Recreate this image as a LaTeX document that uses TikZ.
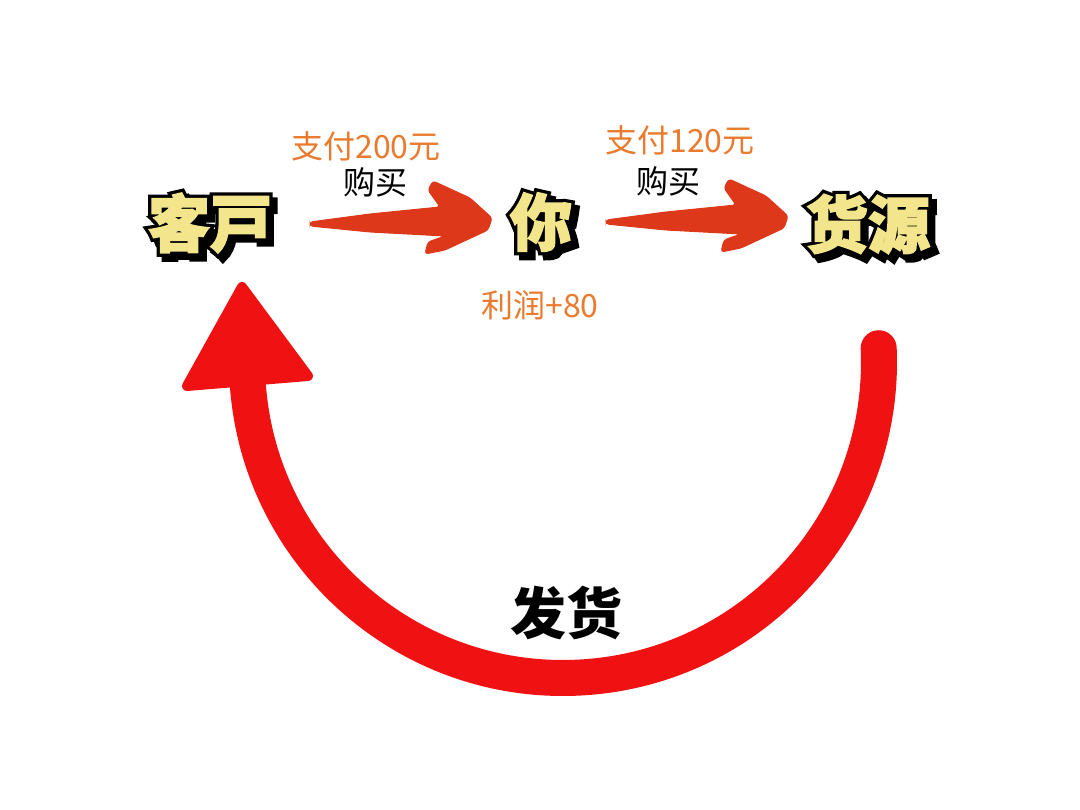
\documentclass[tikz,border=0pt]{standalone}
\usepackage{fontspec}
\newfontfamily\cjk{Noto Sans CJK SC}
\newfontfamily\cjkout{Noto Sans CJK SC}[BoldFeatures={FakeBold=13}]
\newfontfamily\cjkfill{Noto Sans CJK SC}[BoldFeatures={FakeBold=2.5}]
\usetikzlibrary{calc}
\definecolor{ylw}{RGB}{243,229,140}
\definecolor{org}{RGB}{234,123,46}
\definecolor{brush}{RGB}{222,56,26}
\definecolor{bigred}{RGB}{240,18,18}
\tikzset{
 bigout/.style={inner sep=0pt,text=black,font=\cjkout\bfseries\fontsize{62bp}{62bp}\selectfont},
 bigfill/.style={inner sep=0pt,text=ylw,font=\cjkfill\bfseries\fontsize{62bp}{62bp}\selectfont},
 lbl/.style={inner sep=0pt,font=\cjk\fontsize{32bp}{32bp}\selectfont},
 paylbl/.style={lbl,text=org},
 buylbl/.style={lbl,text=black},
 brushfill/.style={fill=brush,draw=brush,line width=1bp,rounded corners=3bp},
 bigarc/.style={draw=bigred,line width=36bp,line cap=round},
 bighead/.style={fill=bigred,draw=bigred,line width=10bp,line join=round},
 shiptxt/.style={inner sep=0pt,font=\cjk\bfseries\fontsize{56bp}{56bp}\selectfont}
}
\newcommand\popword[3]{%
 \node[bigout] at ($(#2)+(5,5)$) {#3};%
 \node[bigout] at (#2) {#3};%
 \node[bigfill] (#1) at (#2) {#3};}
\newcommand\brushpath{%
 (310,222) -- (370,214) -- (440,207) -- (428,190) -- (433,181) -- (470,198)
 -- (492,218) -- (488,230) -- (445,250) -- (425,254) -- (428,242) -- (445,236)
 -- (370,232) -- (310,226) -- cycle}
\begin{document}
\begin{tikzpicture}[x=1bp,y=-1bp]
\useasboundingbox (0,0) rectangle (1080,810);
\fill[white] (0,0) rectangle (1080,810);
% big red return arc
\coordinate (ctr) at (563,362);
\coordinate (arcstart) at ($(ctr)+(-2.5:316)$);
\draw[bigarc] (arcstart) arc[start angle=-2.5,end angle=176.5,radius=316];
\coordinate (tipA) at (242,287);
\coordinate (tipB) at (187,386);
\coordinate (tipC) at (308,376);
\filldraw[bighead] (tipA) -- (tipB) -- (tipC) -- cycle;
% brush arrows
\fill[brushfill] \brushpath;
\begin{scope}[shift={(296,-2)}]
\fill[brushfill] \brushpath;
\end{scope}
% main words
\popword{kehu}{210,223}{客戸}
\popword{ni}{541,222}{你}
\popword{huoyuan}{868,224}{货源}
% labels
\node[paylbl] (pay1) at (366,146) {支付200元};
\node[buylbl] (buy1) at (375,182) {购买};
\node[paylbl] (pay2) at (680,140) {支付120元};
\node[buylbl] (buy2) at (668,181) {购买};
\node[paylbl] (profit) at (540,305) {利润+80};
\node[shiptxt] (ship) at (566,613) {发货};
\end{tikzpicture}
\end{document}
